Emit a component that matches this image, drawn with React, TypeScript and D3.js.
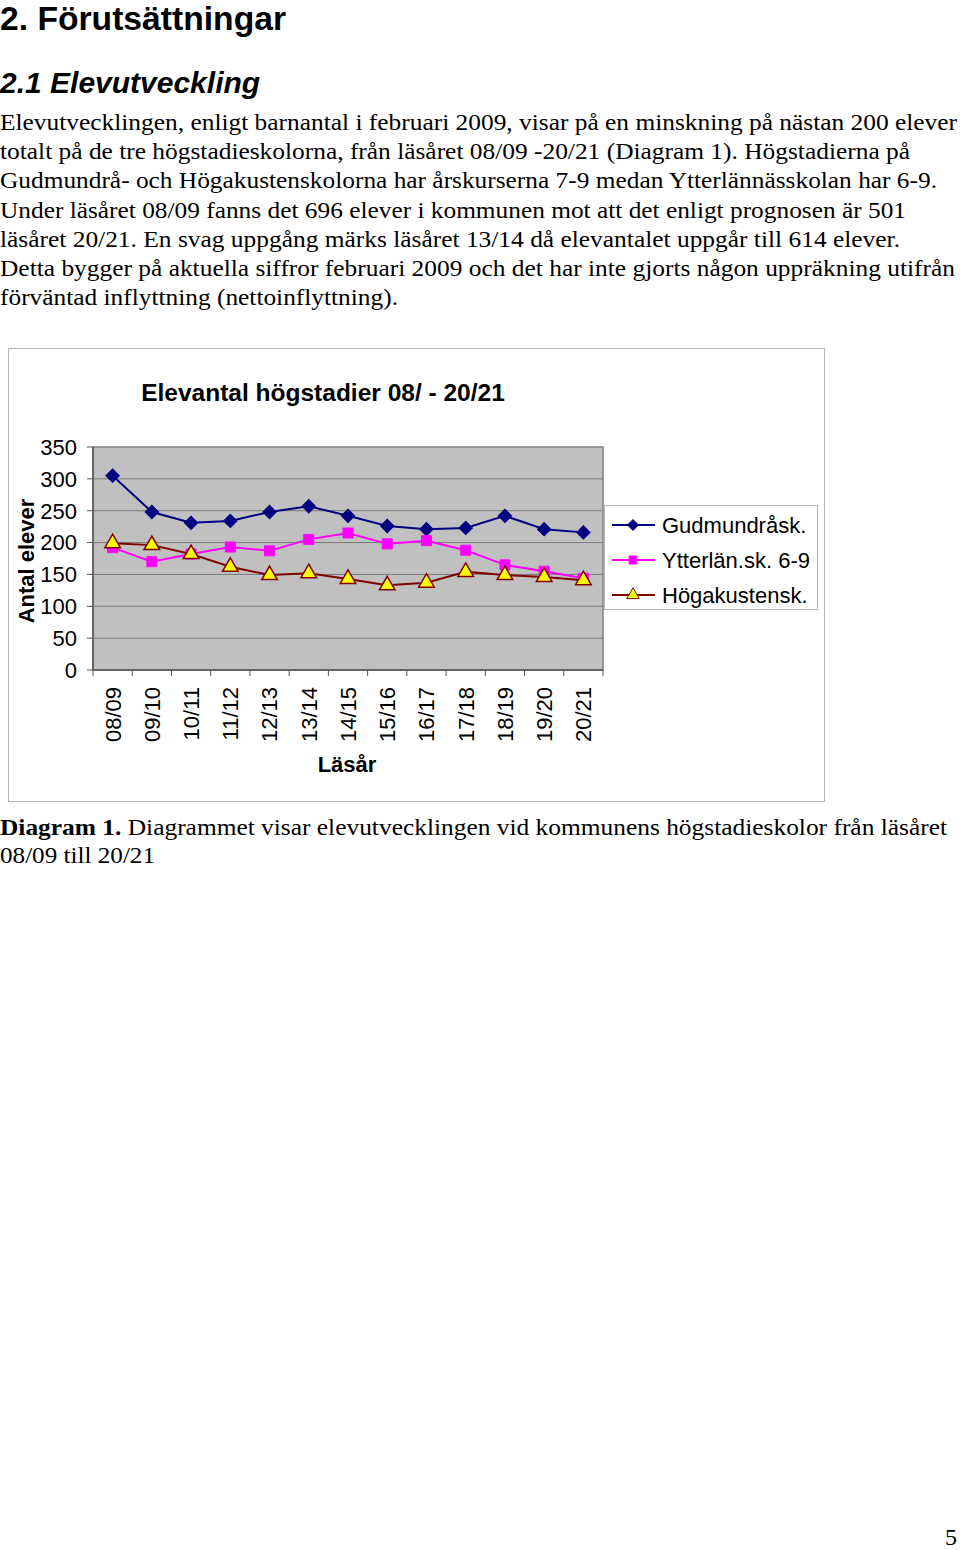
import React from "react";
import * as d3 from "d3";

const categories = ["08/09","09/10","10/11","11/12","12/13","13/14","14/15","15/16","16/17","17/18","18/19","19/20","20/21"];
const gudmundra = [305, 248, 231, 234, 248, 257, 242, 226, 221, 223, 242, 221, 216];
const ytterlan = [192, 170, 182, 193, 187, 205, 215, 198, 203, 188, 165, 155, 144];
const hogakusten = [199, 196, 182, 162, 149, 152, 143, 133, 137, 154, 149, 146, 141];
const yTicks = [0, 50, 100, 150, 200, 250, 300, 350];
const seriesNames = ["Gudmundråsk.", "Ytterlän.sk. 6-9", "Högakustensk."];

const paragraph = [
  { t: "Elevutvecklingen, enligt barnantal i februari 2009, visar på en minskning på nästan 200 elever", w: 957 },
  { t: "totalt på de tre högstadieskolorna, från läsåret 08/09 -20/21 (Diagram 1). Högstadierna på", w: 910 },
  { t: "Gudmundrå- och Högakustenskolorna har årskurserna 7-9 medan Ytterlännässkolan har 6-9.", w: 937 },
  { t: "Under läsåret 08/09 fanns det 696 elever i kommunen mot att det enligt prognosen är 501", w: 906 },
  { t: "läsåret 20/21. En svag uppgång märks läsåret 13/14 då elevantalet uppgår till 614 elever.", w: 900 },
  { t: "Detta bygger på aktuella siffror februari 2009 och det har inte gjorts någon uppräkning utifrån", w: 955 },
  { t: "förväntad inflyttning (nettoinflyttning).", w: 398 },
];

export default function App() {
  const x = d3.scaleBand<string>().domain(categories).range([93, 603]);
  const y = d3.scaleLinear().domain([0, 350]).range([670, 447]);
  const cx = (c: string) => (x(c) as number) + x.bandwidth() / 2;
  const line = d3.line<number>().x((_, i) => cx(categories[i])).y((d) => y(d));

  const diamond = d3.symbol().type(d3.symbolSquare).size(90)()!;
  const square = d3.symbol().type(d3.symbolSquare).size(100)()!;
  const triangle = d3.symbol().type(d3.symbolTriangle).size(105)()!;

  const series = [
    { name: seriesNames[0], data: gudmundra, stroke: "#000080", fill: "#000080", mstroke: "#000080", path: diamond, rot: 45 },
    { name: seriesNames[1], data: ytterlan, stroke: "#FF00FF", fill: "#FF00FF", mstroke: "#FF00FF", path: square, rot: 0 },
    { name: seriesNames[2], data: hogakusten, stroke: "#800000", fill: "#FFFF00", mstroke: "#800000", path: triangle, rot: 0 },
  ];
  const bounds = x.domain().map((c) => x(c) as number).concat([603]);
  const sans = "Liberation Sans, Arial, sans-serif";
  const serif = "Liberation Serif, Times New Roman, serif";

  return (
    <svg width={960} height={1550} style={{ position: "absolute", left: 0, top: 0, background: "#fff" }}>
      <text x={0} y={30} fontFamily={sans} fontWeight="bold" fontSize={33} textLength={286} lengthAdjust="spacingAndGlyphs">2. Förutsättningar</text>
      <text x={0} y={93} fontFamily={sans} fontWeight="bold" fontStyle="italic" fontSize={30}>2.1 Elevutveckling</text>
      {paragraph.map((p, i) => (
        <text key={i} x={0} y={130 + i * 29.2} fontFamily={serif} fontSize={24} textLength={p.w} lengthAdjust="spacingAndGlyphs">{p.t}</text>
      ))}

      {/* chart frame */}
      <rect x={8.5} y={348.5} width={816} height={453} fill="#fff" stroke="#b4b4b4" />
      <text x={323} y={401} textAnchor="middle" fontFamily={sans} fontWeight="bold" fontSize={24.5}>Elevantal högstadier 08/ - 20/21</text>

      {/* plot area */}
      <rect x={93} y={447} width={510} height={223} fill="#C0C0C0" stroke="#808080" strokeWidth={1.5} />
      {yTicks.map((t) => (
        <g key={t}>
          {t > 0 && t < 350 && <line x1={93} x2={603} y1={y(t)} y2={y(t)} stroke="#7a7a7a" strokeWidth={1} />}
          <line x1={87} x2={93} y1={y(t)} y2={y(t)} stroke="#555" />
          <text x={77} y={y(t)} dy="0.36em" textAnchor="end" fontFamily={sans} fontSize={22}>{t}</text>
        </g>
      ))}
      <line x1={93} x2={93} y1={447} y2={670} stroke="#555" strokeWidth={1.5} />
      <line x1={93} x2={603} y1={670} y2={670} stroke="#555" strokeWidth={1.5} />
      {bounds.map((b, i) => (
        <line key={i} x1={b} x2={b} y1={670} y2={676} stroke="#555" />
      ))}
      {categories.map((c) => (
        <text key={c} transform={`translate(${cx(c)},687) rotate(-90)`} dy="0.36em" textAnchor="end" fontFamily={sans} fontSize={22}>{c}</text>
      ))}
      <text x={347} y={772} textAnchor="middle" fontFamily={sans} fontWeight="bold" fontSize={22}>Läsår</text>
      <text transform="translate(26,561) rotate(-90)" dy="0.36em" textAnchor="middle" fontFamily={sans} fontWeight="bold" fontSize={22}>Antal elever</text>

      {series.map((s) => (
        <g key={s.name}>
          <path d={line(s.data) as string} fill="none" stroke={s.stroke} strokeWidth={2} />
          {s.data.map((v, i) => (
            <path key={i} d={s.path} transform={`translate(${cx(categories[i])},${y(v)}) rotate(${s.rot})`} fill={s.fill} stroke={s.mstroke} strokeWidth={s.rot === 0 && s.fill !== s.stroke ? 1.5 : 1} />
          ))}
        </g>
      ))}

      {/* legend */}
      <rect x={604.5} y={505.5} width={213} height={104} fill="#fff" stroke="#b4b4b4" />
      {series.map((s, i) => {
        const ly = 525 + i * 35;
        return (
          <g key={s.name}>
            <line x1={612} x2={655} y1={ly} y2={ly} stroke={s.stroke} strokeWidth={2} />
            <path d={s.path} transform={`translate(633,${ly}) rotate(${s.rot}) scale(0.8)`} fill={s.fill} stroke={s.mstroke} strokeWidth={1.2} />
            <text x={662} y={ly} dy="0.36em" fontFamily={sans} fontSize={22}>{s.name}</text>
          </g>
        );
      })}

      <text x={0} y={835} fontFamily={serif} fontSize={24} textLength={947} lengthAdjust="spacingAndGlyphs">
        <tspan fontWeight="bold">Diagram 1.</tspan> Diagrammet visar elevutvecklingen vid kommunens högstadieskolor från läsåret
      </text>
      <text x={0} y={863} fontFamily={serif} fontSize={24} textLength={155} lengthAdjust="spacingAndGlyphs">08/09 till 20/21</text>

      <text x={957} y={1545} textAnchor="end" fontFamily={serif} fontSize={24}>5</text>
    </svg>
  );
}
